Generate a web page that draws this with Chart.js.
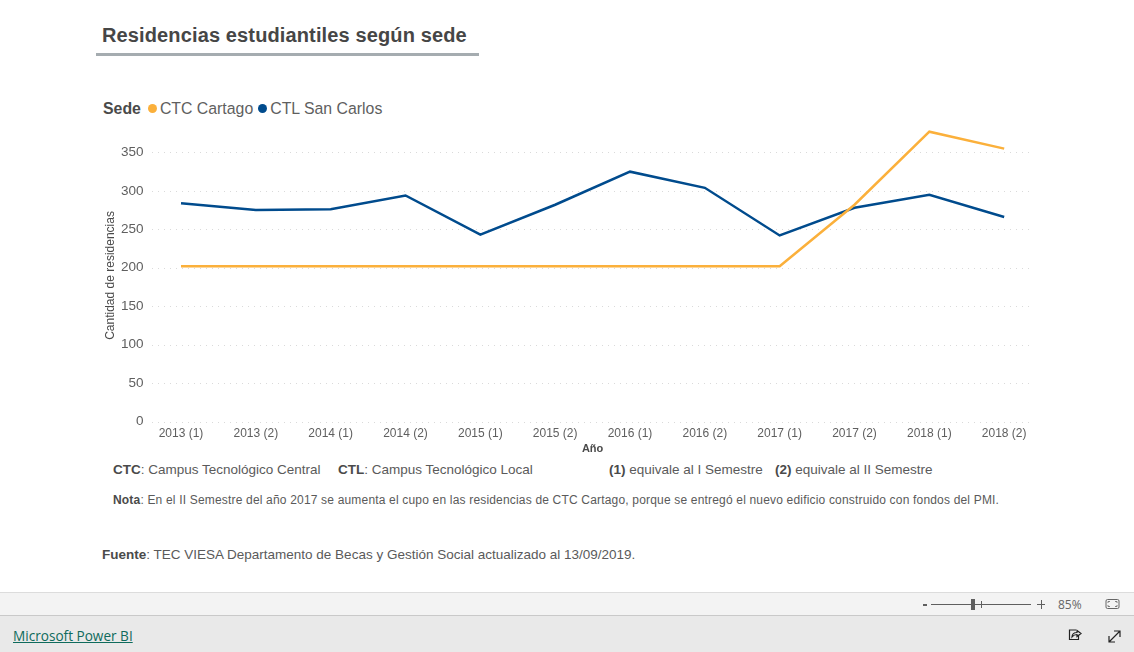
<!DOCTYPE html>
<html lang="es">
<head>
<meta charset="utf-8">
<title>Residencias estudiantiles según sede</title>
<script src="https://cdn.jsdelivr.net/npm/chart.js@4"></script>
<style>
    html, body { margin: 0; padding: 0; background: #fff; overflow: hidden; }
    body { width: 1134px; height: 652px; position: relative; font-family: "Liberation Sans", Arial, sans-serif; color: #5a5a5a; }
    .abs { position: absolute; white-space: nowrap; line-height: 1; }
    b { color: #4a4a4a; }
    #chart-box { position: absolute; left: 0; top: 90px; width: 1134px; height: 370px; }
    #residenciasChart { display: block; }
    #title { left: 102px; top: 25px; font-size: 20px; font-weight: bold; color: #464646; letter-spacing: 0.13px; }
    #title-rule { position: absolute; left: 96px; top: 53px; width: 383px; height: 3px; background: #a5acb0; }
    #legend { left: 103px; top: 101px; font-size: 15.85px; color: #5f5f5f; }
    #legend b { margin-right: 7px; }
    #legend i { display: inline-block; width: 9px; height: 9px; border-radius: 50%; margin: 0 3px 1px 0; }
    #legend span { margin-right: 5px; }
    .t14 { font-size: 13.5px; }
    .bar { position: absolute; left: 0; width: 1134px; box-sizing: border-box; }
    #bar1 { top: 592px; height: 24px; background: #f3f3f3; border-top: 1px solid #dcdcdc; border-bottom: 1px solid #c9c9c9; }
    #bar2 { top: 616px; height: 36px; background: #e9e9e9; }
    #pbi { left: 13px; top: 629px; font-family: "Open Sans", sans-serif; font-size: 13.6px; color: #0f6b5c; text-decoration: underline; }
    .ui { position: absolute; background: #5f5f5f; }
</style>
</head>
<body>
<div class="abs" id="title">Residencias estudiantiles según sede</div>
<div id="title-rule"></div>
<div class="abs" id="legend"></div>
<div id="chart-box"><canvas id="residenciasChart" width="1134" height="370"></canvas></div>

<div class="abs t14" style="left:113px;top:463px"><b>CTC</b>: Campus Tecnológico Central</div>
<div class="abs t14" style="left:338px;top:463px"><b>CTL</b>: Campus Tecnológico Local</div>
<div class="abs t14" style="left:609px;top:463px"><b>(1)</b> equivale al I Semestre</div>
<div class="abs t14" style="left:775px;top:463px"><b>(2)</b> equivale al II Semestre</div>
<div class="abs" style="left:113px;top:494px;font-size:12px;letter-spacing:0.18px"><b>Nota</b>: En el II Semestre del año 2017 se aumenta el cupo en las residencias de CTC Cartago, porque se entregó el nuevo edificio construido con fondos del PMI.</div>
<div class="abs t14" style="left:102px;top:548px"><b>Fuente</b>: TEC VIESA Departamento de Becas y Gestión Social actualizado al 13/09/2019.</div>

<div class="bar" id="bar1"></div>
<div class="bar" id="bar2"></div>
<div class="ui" style="left:923px;top:604px;width:4px;height:2px"></div>
<div class="ui" style="left:931px;top:604px;width:100px;height:1px"></div>
<div class="ui" style="left:971px;top:599px;width:4px;height:11px"></div>
<div class="ui" style="left:981px;top:601px;width:1px;height:7px"></div>
<div class="ui" style="left:1037px;top:604px;width:8px;height:1px"></div>
<div class="ui" style="left:1041px;top:600px;width:1px;height:9px"></div>
<div class="abs" style="left:1058px;top:599px;font-family:'Open Sans',sans-serif;font-size:12px;color:#666">85%</div>
<svg style="position:absolute;left:1105px;top:598px" width="16" height="13" fill="none" stroke="#666"><rect x="1" y="1.5" width="13" height="9" rx="1.5"/><path d="M3 5V3.5H5M10 3.5H12V5M12 7V8.5H10M5 8.5H3V7" stroke-width="0.8"/></svg>
<div class="abs" id="pbi">Microsoft Power BI</div>
<svg style="position:absolute;left:1067px;top:627px" width="16" height="15" fill="none" stroke="#222" stroke-width="1.2"><path d="M9 3H2.5V12.5H11.5V8"/><path d="M5 10C5 7 7 5.5 10 5.5V3.5L14 6.5L10 9.5V7.5C8 7.5 6.5 8 5 10Z"/></svg>
<svg style="position:absolute;left:1107px;top:629px" width="15" height="15" fill="none" stroke="#222" stroke-width="1.2"><path d="M2 13L13 2M7 2H13V8M2 7V13H8"/></svg>

<script>
const categories = ["2013 (1)", "2013 (2)", "2014 (1)", "2014 (2)", "2015 (1)", "2015 (2)", "2016 (1)", "2016 (2)", "2017 (1)", "2017 (2)", "2018 (1)", "2018 (2)"];
const cartagoValues = [202, 202, 202, 202, 202, 202, 202, 202, 202, 282, 377, 355];
const sanCarlosValues = [284, 275, 276, 294, 243, 282, 325, 304, 242, 278, 295, 266];
const yTicks = [0, 50, 100, 150, 200, 250, 300, 350];
const seriesNames = ["CTC Cartago", "CTL San Carlos"];
const seriesColors = ["#fbb03b", "#004b8d"];

// legend is plain html so it can sit left of the plot like in Power BI
document.getElementById('legend').innerHTML = '<b>Sede</b>' + seriesNames.map((name, i) =>
    `<i style="background:${seriesColors[i]}"></i><span>${name}</span>`).join('');

// dotted gridlines stop short of the category bands
const dottedGrid = {
    id: 'dottedGrid',
    beforeDatasetsDraw(chart) {
        const ctx = chart.ctx;
        ctx.save();
        ctx.strokeStyle = '#dadada';
        ctx.lineWidth = 1;
        ctx.setLineDash([1, 5]);
        yTicks.forEach(v => {
            const y = Math.round(chart.scales.y.getPixelForValue(v)) + 0.5;
            ctx.beginPath();
            ctx.moveTo(152, y);
            ctx.lineTo(1030, y);
            ctx.stroke();
        });
        ctx.restore();
    }
};

new Chart(document.getElementById('residenciasChart'), {
    type: 'line',
    data: {
        labels: categories,
        datasets: [
            { label: seriesNames[1], data: sanCarlosValues, borderColor: seriesColors[1], order: 2 },
            { label: seriesNames[0], data: cartagoValues, borderColor: seriesColors[0], order: 1 }
        ]
    },
    options: {
        responsive: false,
        animation: false,
        devicePixelRatio: 1,
        layout: { padding: { left: 103, right: 92.4, top: 39.4, bottom: 4 } },
        elements: {
            line: { borderWidth: 2.5, tension: 0 },
            point: { radius: 0 }
        },
        plugins: { legend: { display: false }, tooltip: { enabled: false } },
        scales: {
            x: {
                offset: true,
                grid: { display: false, drawTicks: false },
                border: { display: false },
                ticks: { color: '#5f5f5f', font: { family: 'Liberation Sans', size: 12 }, padding: 5, maxRotation: 0, autoSkip: false },
                title: { display: true, text: 'Año', color: '#4a4a4a', font: { family: 'Liberation Sans', size: 11, weight: 'bold' }, padding: { top: 1, bottom: 0 } },
                afterFit: scale => { scale.height = 34.5; }
            },
            y: {
                min: 0,
                max: 380,
                afterBuildTicks: scale => { scale.ticks = yTicks.map(value => ({ value })); },
                grid: { display: false, drawTicks: false },
                border: { display: false },
                ticks: { color: '#5f5f5f', font: { family: 'Liberation Sans', size: 13.5 }, padding: 0 },
                title: { display: true, text: 'Cantidad de residencias', color: '#4a4a4a', font: { family: 'Liberation Sans', size: 12 }, padding: 0 },
                afterFit: scale => { scale.width = 40.6; }
            }
        }
    },
    plugins: [dottedGrid]
});
</script>
</body>
</html>
